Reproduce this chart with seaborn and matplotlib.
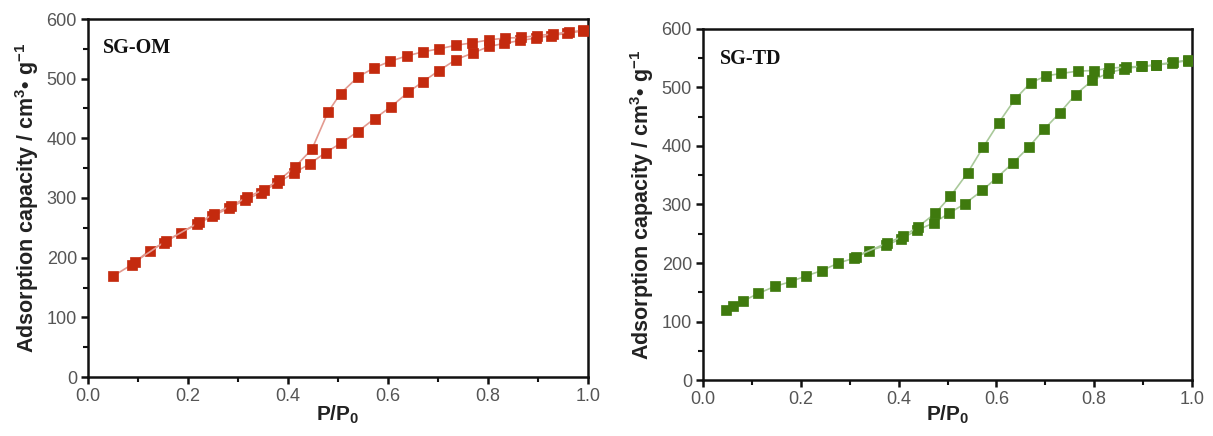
import matplotlib
matplotlib.use("Agg")
import matplotlib.pyplot as plt
from matplotlib.ticker import MultipleLocator
import seaborn as sns
import pandas as pd

# ---- SG-OM data ----
om_ads_x = [0.050, 0.087, 0.123, 0.152, 0.186, 0.218, 0.247, 0.282, 0.313, 0.346, 0.378, 0.412,
            0.443, 0.475, 0.506, 0.539, 0.573, 0.606, 0.640, 0.670, 0.701, 0.736, 0.770, 0.802,
            0.832, 0.864, 0.896, 0.925, 0.958, 0.990]
om_ads_y = [169, 188, 212, 225, 242, 256, 269, 283, 296, 309, 325, 342,
            357, 376, 392, 411, 433, 453, 477, 495, 513, 532, 543, 554,
            559, 564, 568, 572, 576, 580]
om_des_x = [0.990, 0.962, 0.930, 0.898, 0.866, 0.834, 0.802, 0.768, 0.736, 0.702, 0.670, 0.637,
            0.604, 0.572, 0.540, 0.505, 0.480, 0.448, 0.414, 0.382, 0.351, 0.318, 0.286, 0.251,
            0.222, 0.156, 0.094]
om_des_y = [581, 578, 575, 572, 569, 568, 565, 560, 556, 550, 545, 538,
            529, 518, 503, 475, 444, 382, 352, 330, 314, 301, 287, 273,
            259, 228, 193]

# ---- SG-TD data ----
td_ads_x = [0.048, 0.062, 0.082, 0.113, 0.147, 0.179, 0.211, 0.243, 0.277, 0.308, 0.340, 0.374,
            0.404, 0.438, 0.473, 0.503, 0.535, 0.571, 0.601, 0.634, 0.666, 0.698, 0.730, 0.762,
            0.796, 0.829, 0.861, 0.895, 0.926, 0.960, 0.992]
td_ads_y = [120, 127, 135, 148, 160, 168, 178, 187, 200, 208, 221, 230,
            241, 256, 269, 285, 301, 324, 346, 371, 398, 429, 457, 488,
            512, 525, 532, 536, 538, 542, 546]
td_des_x = [0.992, 0.961, 0.926, 0.897, 0.865, 0.831, 0.799, 0.766, 0.733, 0.702, 0.670, 0.638,
            0.605, 0.573, 0.541, 0.506, 0.475, 0.440, 0.410, 0.376, 0.312]
td_des_y = [547, 543, 539, 536, 535, 533, 529, 528, 524, 520, 508, 480,
            440, 398, 354, 314, 285, 262, 246, 234, 211]

x_ticks = [0.0, 0.2, 0.4, 0.6, 0.8, 1.0]
y_ticks = [0, 100, 200, 300, 400, 500, 600]

sns.set_theme(style="ticks")
plt.rcParams['font.family'] = ['Liberation Sans', 'DejaVu Sans']
plt.rcParams['mathtext.fontset'] = 'custom'
plt.rcParams['mathtext.rm'] = 'Liberation Sans'
plt.rcParams['mathtext.bf'] = 'Liberation Sans:bold'
plt.rcParams['mathtext.it'] = 'Liberation Sans:italic'

fig = plt.figure(figsize=(12.13, 4.36), dpi=100)
ax1 = fig.add_axes([88/1213, 1-377/436, 500/1213, 358/436])
ax2 = fig.add_axes([703/1213, 1-380/436, 489/1213, 351/436])

panels = [
    (ax1, om_ads_x, om_ads_y, om_des_x, om_des_y, "#C42A0E", "#E39A90", "SG-OM", (0.03, 0.92)),
    (ax2, td_ads_x, td_ads_y, td_des_x, td_des_y, "#3F7A0E", "#A9C99A", "SG-TD", (0.035, 0.915)),
]

for ax, ax_x, ax_y, de_x, de_y, mcol, lcol, name, pos in panels:
    for xs, ys in [(ax_x, ax_y), (de_x, de_y)]:
        df = pd.DataFrame({"x": xs, "y": ys})
        sns.lineplot(data=df, x="x", y="y", ax=ax, sort=False, color=lcol, lw=1.2,
                     marker="s", markersize=7.3, markerfacecolor=mcol, markeredgecolor=mcol,
                     markeredgewidth=0.5, zorder=3)
    ax.set_xlim(0, 1.0)
    ax.set_ylim(0, 600)
    ax.set_xticks(x_ticks)
    ax.set_xticklabels([f"{t:.1f}" for t in x_ticks])
    ax.set_yticks(y_ticks)
    ax.xaxis.set_minor_locator(MultipleLocator(0.1))
    ax.yaxis.set_minor_locator(MultipleLocator(50))
    ax.tick_params(axis="both", which="major", direction="out", length=5, width=1.8,
                   labelsize=13, labelcolor="#555555", color="#111111", pad=3)
    ax.tick_params(axis="both", which="minor", direction="out", length=3.5, width=1.5,
                   color="#111111")
    ax.tick_params(top=False, right=False, which="both")
    for s in ax.spines.values():
        s.set_linewidth(1.8)
        s.set_color("#111111")
        s.set_visible(True)
    ax.set_ylabel("Adsorption capacity / cm$^{\\mathbf{3}}$\u2022 g$^{\\mathbf{-1}}$",
                  fontsize=15.5, fontweight="bold", color="#222222", labelpad=4)
    ax.set_xlabel(r"P/P$_{\mathbf{0}}$", fontsize=15, fontweight="bold", color="#222222")
    ax.text(pos[0], pos[1], name, transform=ax.transAxes, fontsize=14.5, fontweight="bold",
            family="Liberation Serif", color="#111111", va="center", ha="left")
    ax.set_facecolor("white")

ax1.xaxis.labelpad = -1
ax2.xaxis.labelpad = -3

fig.savefig("out.png", dpi=100, facecolor="white")
